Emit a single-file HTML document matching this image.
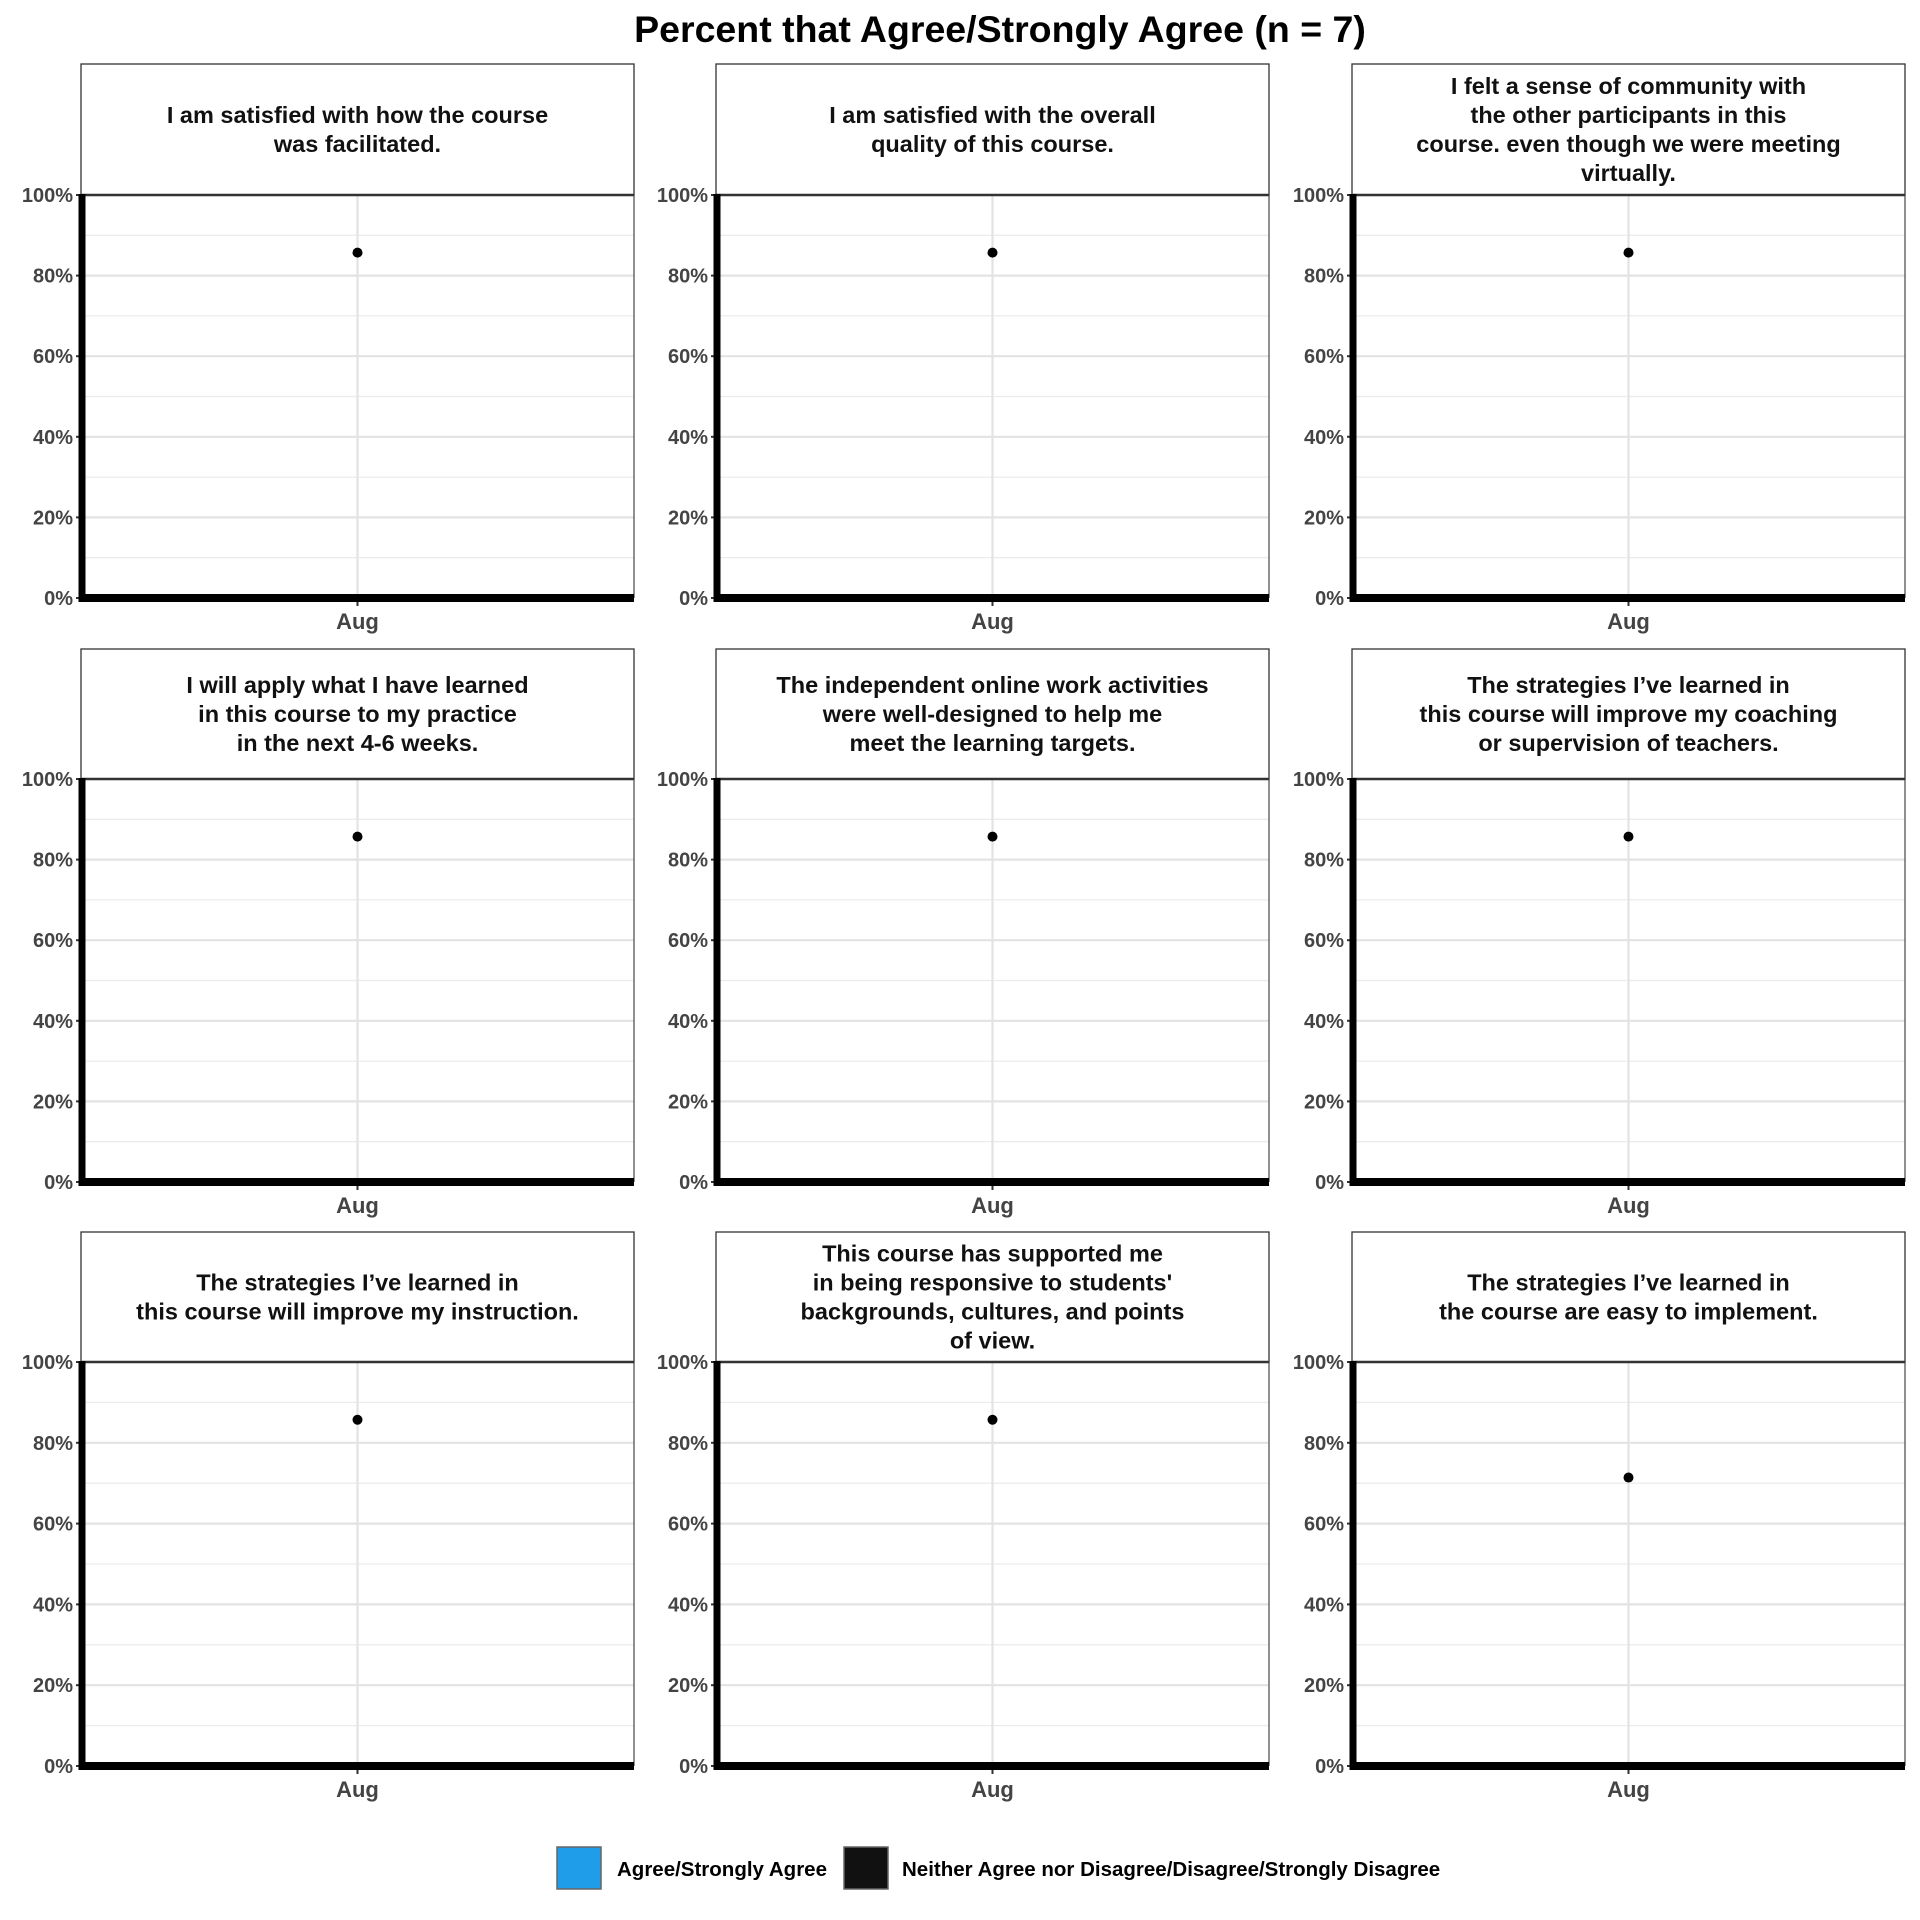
<!DOCTYPE html>
<html><head><meta charset="utf-8"><style>
html,body{margin:0;padding:0;background:#fff;width:1920px;height:1920px;overflow:hidden}
svg text{font-family:"Liberation Sans",sans-serif;font-weight:bold}
</style></head><body>
<svg id="chart" width="1920" height="1920" xmlns="http://www.w3.org/2000/svg">
<text x="1000" y="42" text-anchor="middle" font-size="37.5" fill="#000">Percent that Agree/Strongly Agree (n = 7)</text>
<g id="panels"></g>
<g>
<rect x="557" y="1847" width="44" height="42" fill="#1f9de8" stroke="#666" stroke-width="1.5"/>
<text x="617" y="1876" font-size="20.5" fill="#000">Agree/Strongly Agree</text>
<rect x="844" y="1847" width="44" height="42" fill="#111" stroke="#666" stroke-width="1.5"/>
<text x="902" y="1876" font-size="20.5" fill="#000">Neither Agree nor Disagree/Disagree/Strongly Disagree</text>
</g>
</svg>
<script>
const titles = [
 ["I am satisfied with how the course","was facilitated."],
 ["I am satisfied with the overall","quality of this course."],
 ["I felt a sense of community with","the other participants in this","course. even though we were meeting","virtually."],
 ["I will apply what I have learned","in this course to my practice","in the next 4-6 weeks."],
 ["The independent online work activities","were well-designed to help me","meet the learning targets."],
 ["The strategies I\u2019ve learned in","this course will improve my coaching","or supervision of teachers."],
 ["The strategies I\u2019ve learned in","this course will improve my instruction."],
 ["This course has supported me","in being responsive to students'","backgrounds, cultures, and points","of view."],
 ["The strategies I\u2019ve learned in","the course are easy to implement."]
];
const categories = ["Aug"];
const values = [85.7, 85.7, 85.7, 85.7, 85.7, 85.7, 85.7, 85.7, 71.4];
const yTicks = [0, 20, 40, 60, 80, 100];
const yTickLabels = ["0%","20%","40%","60%","80%","100%"];

const NS = "http://www.w3.org/2000/svg";
const colX = [81, 716, 1352], colW = 553;
const rowStrip = [64, 649, 1232], rowTop = [195, 779, 1362], rowBot = [598, 1182, 1766];
const g = document.getElementById('panels');
function mk(tag, attrs, parent) {
  const e = document.createElementNS(NS, tag);
  for (const k in attrs) e.setAttribute(k, attrs[k]);
  parent.appendChild(e); return e;
}
titles.forEach((t, i) => {
  const c = i % 3, r = Math.floor(i / 3);
  const x0 = colX[c], x1 = x0 + colW, st = rowStrip[r], top = rowTop[r], bot = rowBot[r];
  const y = v => bot - (v / 100) * (bot - top);
  const xs = k => x0 + (k + 0.5) * colW / categories.length;
  const p = mk('g', {}, g);
  
  
  const strip = mk('rect', {x: x0, y: st, width: colW, height: top - st, fill: '#fff', stroke: '#333', 'stroke-width': 1.3}, p);
  
  
  const lh = 29, mid = (st + top) / 2;
  t.forEach((line, j) => {
    const tx = mk('text', {x: x0 + colW / 2, y: mid + (j - (t.length - 1) / 2) * lh + 8, 'text-anchor': 'middle', 'font-size': 23.5, fill: '#111'}, p);
    
    
    tx.textContent = line;
  });
  for (let k = 0; k < yTicks.length - 1; k++) {
    const m = (yTicks[k] + yTicks[k + 1]) / 2;
    mk('line', {x1: x0, x2: x1, y1: y(m), y2: y(m), stroke: '#ececec', 'stroke-width': 1.3}, p);
  }
  yTicks.forEach((v, k) => {
    const gl = mk('line', {x1: x0, x2: x1, y1: y(v), y2: y(v), stroke: '#e3e3e3', 'stroke-width': 2.2}, p);
    
    
    mk('line', {x1: x0 - 5, x2: x0, y1: y(v), y2: y(v), stroke: '#333', 'stroke-width': 2}, p);
    const tl = mk('text', {x: x0 - 8, y: y(v) + 7, 'text-anchor': 'end', 'font-size': 20, fill: '#444'}, p);
    
    
    tl.textContent = yTickLabels[k];
  });
  categories.forEach((cat, k) => {
    mk('line', {x1: xs(k), x2: xs(k), y1: top, y2: bot, stroke: '#e3e3e3', 'stroke-width': 2.2}, p);
    mk('line', {x1: xs(k), x2: xs(k), y1: bot, y2: bot + 8, stroke: '#333', 'stroke-width': 2}, p);
    const xl = mk('text', {x: xs(k), y: bot + 31, 'text-anchor': 'middle', 'font-size': 22, fill: '#444'}, p);
    
    
    xl.textContent = cat;
    const pt = mk('circle', {cx: xs(k), cy: y(values[i]), r: 5, fill: '#000'}, p);
    
    
  });
  mk('line', {x1: x1, x2: x1, y1: top, y2: bot, stroke: '#555', 'stroke-width': 1.3}, p);
  mk('line', {x1: x0, x2: x1, y1: top, y2: top, stroke: '#333', 'stroke-width': 2.5}, p);
  const ya = mk('line', {x1: x0 + 1, x2: x0 + 1, y1: top - 1, y2: bot + 4, stroke: '#000', 'stroke-width': 7}, p);
  
  
  const xa = mk('line', {x1: x0 - 2, x2: x1, y1: bot, y2: bot, stroke: '#000', 'stroke-width': 8}, p);
  
  
});
</script>
</body></html>
